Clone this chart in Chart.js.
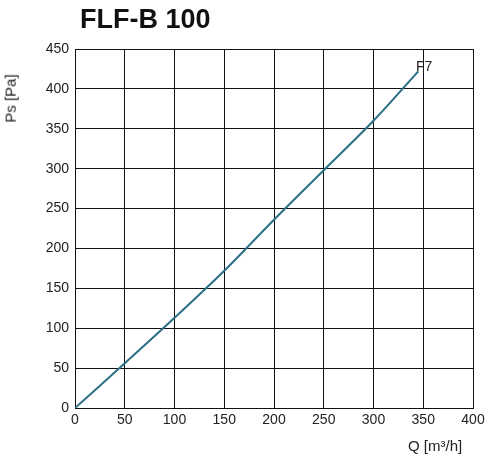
<!DOCTYPE html>
<html>
<head>
<meta charset="UTF-8">
<script src="https://cdn.jsdelivr.net/npm/chart.js@4.4.0/dist/chart.umd.min.js"></script>
<style>
  body { margin: 0; background: #fff; font-family: "Liberation Sans", Arial, sans-serif; }
  #wrap { position: relative; width: 500px; height: 473px; }
  .lbl { position: absolute; color: #222; font-size: 15px; }
</style>
</head>
<body>
<div id="wrap">
  <canvas id="c" width="500" height="473"></canvas>
  <div class="lbl" style="left:80px;top:4px;font-size:27px;font-weight:bold;color:#111">FLF-B 100</div>
  <div class="lbl" style="left:-14px;top:90px;transform:rotate(-90deg);">Ps [Pa]</div>
  <div class="lbl" style="left:408px;top:437px;">Q [m³/h]</div>
  <div class="lbl" style="left:416px;top:58px;font-size:14px;">F7</div>
</div>
<script>
const flowQ = [0, 50, 100, 150, 200, 250, 300, 345];
const pressurePs = [0, 56, 113, 172, 236, 298, 360, 422];
const xTicks = [0, 50, 100, 150, 200, 250, 300, 350, 400];

new Chart(document.getElementById('c'), {
  type: 'line',
  data: {
    datasets: [{
      label: 'F7',
      data: flowQ.map((q, i) => ({ x: q, y: pressurePs[i] })),
      borderColor: '#2b6f87',
      borderWidth: 2,
      pointRadius: 0,
      tension: 0.3
    }]
  },
  options: {
    responsive: false,
    animation: false,
    layout: { padding: { top: 49, right: 27 } },
    plugins: { legend: { display: false }, tooltip: { enabled: false } },
    scales: {
      x: {
        type: 'linear', min: 0, max: 400,
        afterBuildTicks: s => { s.ticks = xTicks.map(v => ({ value: v })); },
        afterFit: s => { s.height = 65; },
        grid: { color: '#111', lineWidth: 1, tickLength: 0 },
        border: { color: '#111' },
        ticks: { color: '#222', font: { size: 14, family: 'Liberation Sans' }, padding: 4 }
      },
      y: {
        min: 0, max: 450,
        ticks: { stepSize: 50, color: '#222', font: { size: 14, family: 'Liberation Sans' }, padding: 6 },
        afterFit: s => { s.width = 75; },
        grid: { color: '#111', lineWidth: 1, tickLength: 0 },
        border: { color: '#111' }
      }
    }
  }
});
</script>
</body>
</html>
